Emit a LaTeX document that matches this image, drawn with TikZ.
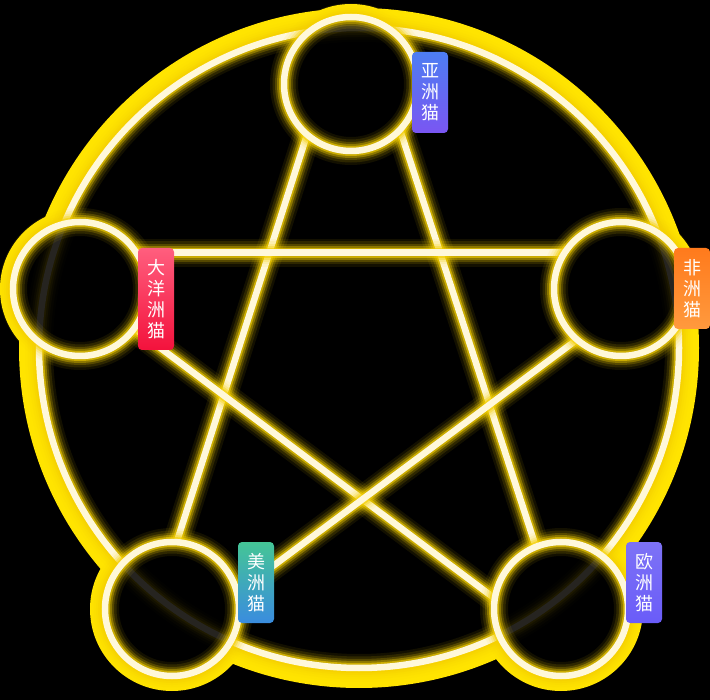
\documentclass[tikz,border=0pt]{standalone}
\usepackage{fontspec}
\newfontfamily\cjk{Noto Sans CJK SC}
\usetikzlibrary{positioning}
\definecolor{neoncore}{HTML}{FFF8DA}
\definecolor{neonglow}{HTML}{F5D000}
\definecolor{rimyellow}{HTML}{FFE400}
\definecolor{asiatop}{HTML}{4D7DF2}
\definecolor{asiabot}{HTML}{7A56F2}
\definecolor{oceantop}{HTML}{FF5E7E}
\definecolor{oceanbot}{HTML}{F3123C}
\definecolor{africatop}{HTML}{FF7A1C}
\definecolor{africabot}{HTML}{FF9A3E}
\definecolor{americatop}{HTML}{44C596}
\definecolor{americabot}{HTML}{3A8CDF}
\definecolor{europetop}{HTML}{7D72F6}
\definecolor{europebot}{HTML}{6A5CF8}
\pgfdeclarelayer{back}
\pgfdeclarelayer{lines}
\pgfsetlayers{back,lines,main}
\tikzset{
  neon/.style={draw=neoncore, line width=6.5pt,
    preaction={draw=neonglow, line width=28pt, draw opacity=0.08},
    preaction={draw=neonglow, line width=23pt, draw opacity=0.12},
    preaction={draw=neonglow, line width=18pt, draw opacity=0.2},
    preaction={draw=neonglow, line width=14pt, draw opacity=0.35},
    preaction={draw=neonglow, line width=10pt, draw opacity=0.6}},
  catring/.style={circle, inner sep=0pt, outer sep=0pt, minimum size=134pt,
    preaction={fill=black, fill opacity=0.85}, neon},
  catlabel/.style={rounded corners=4pt, inner sep=0pt, minimum width=36pt,
    text width=36pt, align=center, text=white,
    font=\cjk\fontsize{18}{21}\selectfont}
}

\begin{document}
\begin{tikzpicture}[x=1pt, y=-1pt]
    \useasboundingbox (0,0) rectangle (710,700);
    \coordinate (hub) at (359,348);

    \node[catring] (asia) at (351,84) {};
    \node[catring] (oceania) at (80,289) {};
    \node[catring] (africa) at (621,289) {};
    \node[catring] (america) at (172,609) {};
    \node[catring] (europe) at (561,609) {};

    \node[catlabel, minimum height=81pt, top color=asiatop, bottom color=asiabot] (asialbl) at (430,92.5) {亚\\洲\\猫};
    \node[catlabel, minimum height=102pt, top color=oceantop, bottom color=oceanbot] (oceanialbl) at (156,299) {大\\洋\\洲\\猫};
    \node[catlabel, minimum height=81pt, top color=africatop, bottom color=africabot] (africalbl) at (692,288.5) {非\\洲\\猫};
    \node[catlabel, minimum height=81pt, top color=americatop, bottom color=americabot] (americalbl) at (256,582.5) {美\\洲\\猫};
    \node[catlabel, minimum height=81pt, top color=europetop, bottom color=europebot] (europelbl) at (644,582.5) {欧\\洲\\猫};

    \begin{pgfonlayer}{back}
      \fill[black] (0,0) rectangle (710,700);
      \fill[rimyellow] (hub) circle (340pt) (asia) circle (80pt) (oceania) circle (80pt)
        (africa) circle (80pt) (america) circle (82pt) (europe) circle (82pt);
      \fill[black] (hub) circle (322pt) (asia) circle (67pt) (oceania) circle (67pt)
        (africa) circle (67pt) (america) circle (67pt) (europe) circle (67pt);
      \draw[neon] (hub) circle (320pt);
    \end{pgfonlayer}

    % pentagram
    \begin{pgfonlayer}{lines}
      \draw[neon] (asia.229) -- (america.86);
      \draw[neon] (asia.317) -- (europe.112);
      \draw[neon] (oceania.33) -- (africa.147);
      \draw[neon] (oceania.324) -- (europe.171);
      \draw[neon] (africa.229) -- (america.14);
    \end{pgfonlayer}
\end{tikzpicture}
\end{document}
